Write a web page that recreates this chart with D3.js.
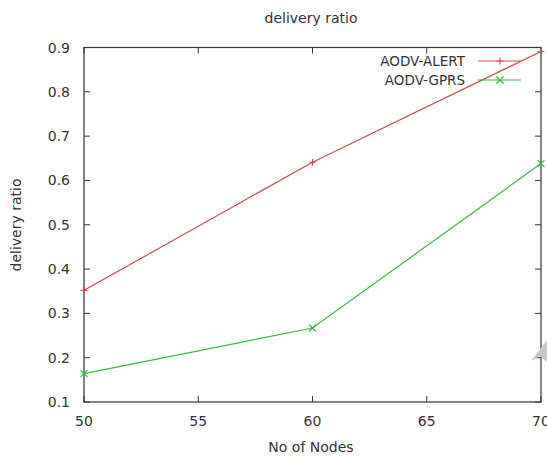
<!DOCTYPE html>
<html>
<head>
<meta charset="utf-8">
<script src="https://cdn.jsdelivr.net/npm/d3@7"></script>
<style>
  body { margin: 0; background: #fff; }
  text { font-family: "DejaVu Sans", sans-serif; fill: #333; }
</style>
</head>
<body>
<div id="chart"></div>
<script>
var width = 547;
var height = 456;

// data
var nodes = [50, 60, 70];
var alertRatio = [0.352, 0.641, 0.891];
var gprsRatio = [0.164, 0.267, 0.638];
var seriesNames = ["AODV-ALERT", "AODV-GPRS"];
var xTicks = [50, 55, 60, 65, 70];
var yTicks = [0.1, 0.2, 0.3, 0.4, 0.5, 0.6, 0.7, 0.8, 0.9];

var plotLeft = 84, plotRight = 541, plotTop = 47.5, plotBottom = 402;

var svg = d3.select('#chart').append('svg')
    .attr('width', width)
    .attr('height', height);

var x = d3.scaleLinear().domain([50, 70]).range([plotLeft, plotRight]);
var y = d3.scaleLinear().domain([0.1, 0.9]).range([plotBottom, plotTop]);

// frame
svg.append('rect')
    .attr('x', plotLeft).attr('y', plotTop)
    .attr('width', plotRight - plotLeft).attr('height', plotBottom - plotTop)
    .attr('fill', 'none').attr('stroke', '#333').attr('stroke-width', 1.2);

// ticks, gnuplot style (inward, mirrored)
var tl = 6;
svg.append('g').selectAll('line').data(xTicks).enter().append('line')
    .attr('x1', function(d){ return x(d); }).attr('x2', function(d){ return x(d); })
    .attr('y1', plotBottom).attr('y2', plotBottom - tl)
    .attr('stroke', '#333');
svg.append('g').selectAll('line').data(xTicks).enter().append('line')
    .attr('x1', function(d){ return x(d); }).attr('x2', function(d){ return x(d); })
    .attr('y1', plotTop).attr('y2', plotTop + tl)
    .attr('stroke', '#333');
svg.append('g').selectAll('line').data(yTicks).enter().append('line')
    .attr('x1', plotLeft).attr('x2', plotLeft + tl)
    .attr('y1', function(d){ return y(d); }).attr('y2', function(d){ return y(d); })
    .attr('stroke', '#333');
svg.append('g').selectAll('line').data(yTicks).enter().append('line')
    .attr('x1', plotRight).attr('x2', plotRight - tl)
    .attr('y1', function(d){ return y(d); }).attr('y2', function(d){ return y(d); })
    .attr('stroke', '#333');

// tick labels
svg.append('g').selectAll('text').data(xTicks).enter().append('text')
    .attr('x', function(d){ return x(d); })
    .attr('y', 426)
    .attr('text-anchor', 'middle')
    .style('font-size', '14px')
    .text(function(d){ return d; });
svg.append('g').selectAll('text').data(yTicks).enter().append('text')
    .attr('x', 70)
    .attr('y', function(d){ return y(d) + 5; })
    .attr('text-anchor', 'end')
    .style('font-size', '14px')
    .text(function(d){ return d3.format('.1f')(d); });

// titles
svg.append('text').attr('x', 311).attr('y', 23)
    .attr('text-anchor', 'middle').style('font-size', '14px')
    .text('delivery ratio');
svg.append('text').attr('x', 311).attr('y', 452)
    .attr('text-anchor', 'middle').style('font-size', '14px')
    .text('No of Nodes');
svg.append('text')
    .attr('transform', 'translate(21,225) rotate(-90)')
    .attr('text-anchor', 'middle').style('font-size', '14px')
    .text('delivery ratio');

var line = d3.line()
    .x(function(d){ return x(d[0]); })
    .y(function(d){ return y(d[1]); });

var series = [
  { name: seriesNames[0], values: d3.zip(nodes, alertRatio), color: '#d34c4c', mark: 'plus' },
  { name: seriesNames[1], values: d3.zip(nodes, gprsRatio), color: '#3cb83c', mark: 'cross' }
];

function marker(g, cx, cy, type, color) {
  var s = 3.5;
  if (type == 'plus') {
    g.append('path').attr('d', 'M' + (cx - s) + ',' + cy + 'H' + (cx + s) + 'M' + cx + ',' + (cy - s) + 'V' + (cy + s))
      .attr('stroke', color).attr('stroke-width', 1.2).attr('fill', 'none');
  } else {
    g.append('path').attr('d', 'M' + (cx - s) + ',' + (cy - s) + 'L' + (cx + s) + ',' + (cy + s) + 'M' + (cx - s) + ',' + (cy + s) + 'L' + (cx + s) + ',' + (cy - s))
      .attr('stroke', color).attr('stroke-width', 1.2).attr('fill', 'none');
  }
}

series.forEach(function(s, i) {
  var g = svg.append('g');
  g.append('path').datum(s.values)
    .attr('d', line)
    .attr('fill', 'none')
    .attr('stroke', s.color)
    .attr('stroke-width', 1.2);
  s.values.forEach(function(d) {
    marker(g, x(d[0]), y(d[1]), s.mark, s.color);
  });

  // legend entry
  var ly = 61 + i * 19;
  svg.append('text').attr('x', 465).attr('y', ly + 5)
    .attr('text-anchor', 'end').style('font-size', '13.5px')
    .text(s.name);
  svg.append('line').attr('x1', 478).attr('x2', 521)
    .attr('y1', ly).attr('y2', ly)
    .attr('stroke', s.color).attr('stroke-width', 1.2);
  marker(svg, 500, ly, s.mark, s.color);
});

// grey cursor artifact at the right edge
svg.append('path')
    .attr('d', 'M531,361 L547,340 L547,362 L540,356 Z')
    .attr('fill', '#c8c8c8');
</script>
</body>
</html>
